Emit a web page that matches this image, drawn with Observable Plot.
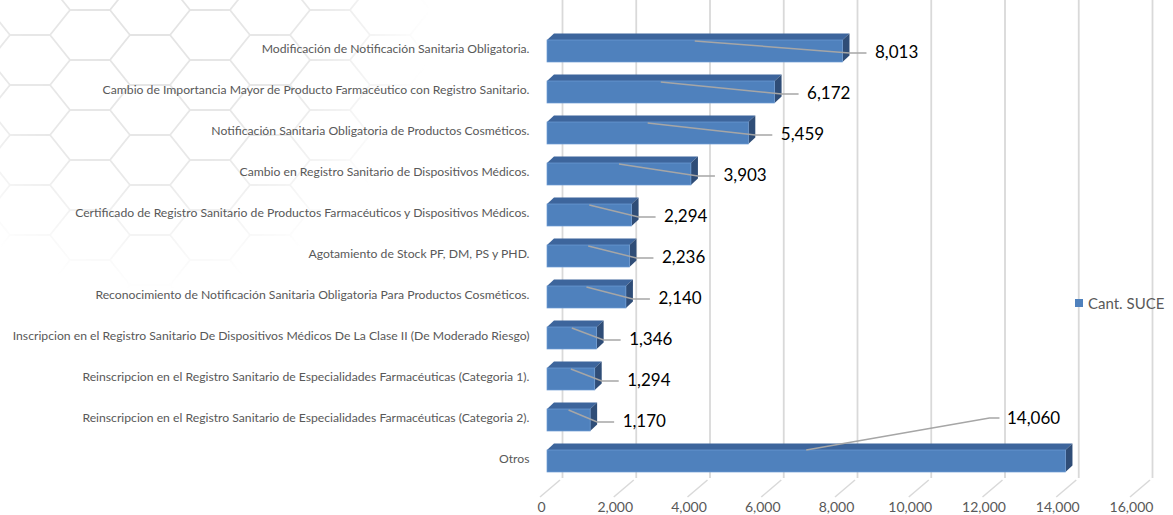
<!DOCTYPE html>
<html><head><meta charset="utf-8">
<script src="https://cdn.jsdelivr.net/npm/d3@7"></script>
<script src="https://cdn.jsdelivr.net/npm/@observablehq/plot@0.6"></script>
<style>
body{margin:0;background:#fff;}
#wrap{position:relative;width:1173px;height:515px;overflow:hidden;font-family:Lato,"Open Sans",sans-serif;}
#bg,#chart{position:absolute;left:0;top:0;}
#legend{position:absolute;left:1075px;top:294px;display:flex;align-items:center;gap:5px;font-size:15px;color:#595959;font-family:Lato,sans-serif;}
#legend .sw{width:8px;height:8px;background:#4f81bd;display:inline-block}
</style></head><body>
<div id="wrap">
<svg id="bg" width="1173" height="515">
  <defs>
    <pattern id="hex" width="120" height="50" patternUnits="userSpaceOnUse" x="-10" y="-15">
      <path d="M20,0L60,0L80,25L60,50L20,50L0,25Z M80,25L120,25" fill="none" stroke="#e3e3e3" stroke-width="1.8"/>
    </pattern>
    <radialGradient id="fade" cx="150" cy="10" r="330" gradientUnits="userSpaceOnUse">
      <stop offset="0" stop-color="#fff" stop-opacity="1"/>
      <stop offset="0.5" stop-color="#fff" stop-opacity="0.8"/>
      <stop offset="0.85" stop-color="#fff" stop-opacity="0"/>
    </radialGradient>
    <mask id="m"><rect width="1173" height="515" fill="url(#fade)"/></mask>
  </defs>
  <rect width="1173" height="515" fill="url(#hex)" mask="url(#m)"/>
</svg>
<div id="chart"></div>
<div id="legend"><span class="sw"></span><span id="legtext"></span></div>
</div>
<script>
const categories = [
  "Modificación de Notificación Sanitaria Obligatoria.",
  "Cambio de Importancia Mayor de Producto Farmacéutico con Registro Sanitario.",
  "Notificación Sanitaria Obligatoria de Productos Cosméticos.",
  "Cambio en Registro Sanitario de Dispositivos Médicos.",
  "Certificado de Registro Sanitario de Productos Farmacéuticos y Dispositivos Médicos.",
  "Agotamiento de Stock PF, DM, PS y PHD.",
  "Reconocimiento de Notificación Sanitaria Obligatoria Para Productos Cosméticos.",
  "Inscripcion en el Registro Sanitario De Dispositivos Médicos De La Clase II (De Moderado Riesgo)",
  "Reinscripcion en el Registro Sanitario de Especialidades Farmacéuticas (Categoria 1).",
  "Reinscripcion en el Registro Sanitario de Especialidades Farmacéuticas (Categoria 2).",
  "Otros"
];
const values = [8013, 6172, 5459, 3903, 2294, 2236, 2140, 1346, 1294, 1170, 14060];
const xTicks = [0, 2000, 4000, 6000, 8000, 10000, 12000, 14000, 16000];
const seriesName = "Cant. SUCE";

document.getElementById("legtext").textContent = seriesName;

const data = categories.map((c, i) => ({cat: c, value: values[i]}));
const fmt = d3.format(",");
const PAD = 0.47;
const DX = 7, DY = 6.5;
const FRONT = "#4f81bd", TOP = "#3d659c", SIDE = "#2f4d77";
const BIG = 12000;

function bandInfo(scales) {
  const y = scales.y;
  const step = y(categories[1]) - y(categories[0]);
  const bw = y.bandwidth ? y.bandwidth() : step * (1 - PAD);
  return {y, bw};
}

// floor lines of the 3D axis
function floorLines(index, scales, vals, dims) {
  const x = scales.x;
  const base = dims.height - dims.marginBottom;
  const g = d3.create("svg:g");
  for (const t of xTicks) {
    g.append("path")
      .attr("d", `M${x(t) - 7},${base + 12}L${x(t) + 13},${base - 5}`)
      .attr("stroke", "#d9d9d9").attr("stroke-width", 1.5).attr("fill", "none");
  }
  return g.node();
}

// top and side faces of the 3D bars
function faces(index, scales) {
  const x = scales.x;
  const {y, bw} = bandInfo(scales);
  const g = d3.create("svg:g");
  for (const d of data) {
    const x0 = x(0), x1 = x(d.value), yt = y(d.cat), yb = yt + bw;
    g.append("path")
      .attr("d", `M${x0},${yt}L${x1},${yt}L${x1 + DX},${yt - DY}L${x0 + DX},${yt - DY}Z`)
      .attr("fill", TOP);
    g.append("path")
      .attr("d", `M${x1},${yt}L${x1 + DX},${yt - DY}L${x1 + DX},${yb - DY}L${x1},${yb}Z`)
      .attr("fill", SIDE);
  }
  return g.node();
}

// leader lines to the data labels
function leaders(index, scales) {
  const x = scales.x;
  const {y, bw} = bandInfo(scales);
  const g = d3.create("svg:g");
  for (const d of data) {
    const x1 = x(d.value), xm = x(d.value / 2), yt = y(d.cat), yc = yt + bw / 2;
    let p;
    if (d.value < BIG) {
      const lx = x1 + 30, ly = yc + 2;
      p = `M${xm},${yt + 1}L${x1 + DX},${ly}L${lx - 6},${ly}`;
    } else {
      const lx = x1 - 59, ly = yc - 43;
      p = `M${xm},${yt}L${lx - 17},${ly}L${lx - 7},${ly}`;
    }
    g.append("path").attr("d", p).attr("fill", "none")
      .attr("stroke", "#a6a6a6").attr("stroke-width", 1.5);
  }
  return g.node();
}

const chart = Plot.plot({
  width: 1173,
  height: 515,
  marginLeft: 547,
  marginRight: 36,
  marginTop: 27,
  marginBottom: 30,
  style: {fontFamily: "Lato, 'Open Sans', sans-serif", color: "#595959", background: "transparent"},
  x: {domain: [0, 16000], axis: null},
  y: {domain: categories, paddingInner: PAD, paddingOuter: PAD / 2, axis: null},
  marks: [
    Plot.ruleX(xTicks, {x: d => d, dx: 15, stroke: "#d9d9d9", strokeWidth: 1.8, insetTop: -27, insetBottom: 7}),
    floorLines,
    faces,
    Plot.barX(data, {x: "value", y: "cat", fill: FRONT, stroke: "#6d9bd3", strokeWidth: 0.7}),
    leaders,
    Plot.text(data.filter(d => d.value < BIG), {
      x: "value", y: "cat", text: d => fmt(d.value), textAnchor: "start",
      dx: 32, dy: 1, fontSize: 17, fill: "#000"
    }),
    Plot.text(data.filter(d => d.value >= BIG), {
      x: "value", y: "cat", text: d => fmt(d.value), textAnchor: "start",
      dx: -59, dy: -43, fontSize: 17, fill: "#000"
    }),
    Plot.axisY({tickSize: 0, tickPadding: 18, fontSize: 12.2, dy: -2, label: null}),
    Plot.axisX(xTicks, {tickSize: 0, tickPadding: 17, dx: -6, fontSize: 14, tickFormat: fmt, label: null, anchor: "bottom"})
  ]
});
document.getElementById("chart").appendChild(chart);
</script>
</body></html>
